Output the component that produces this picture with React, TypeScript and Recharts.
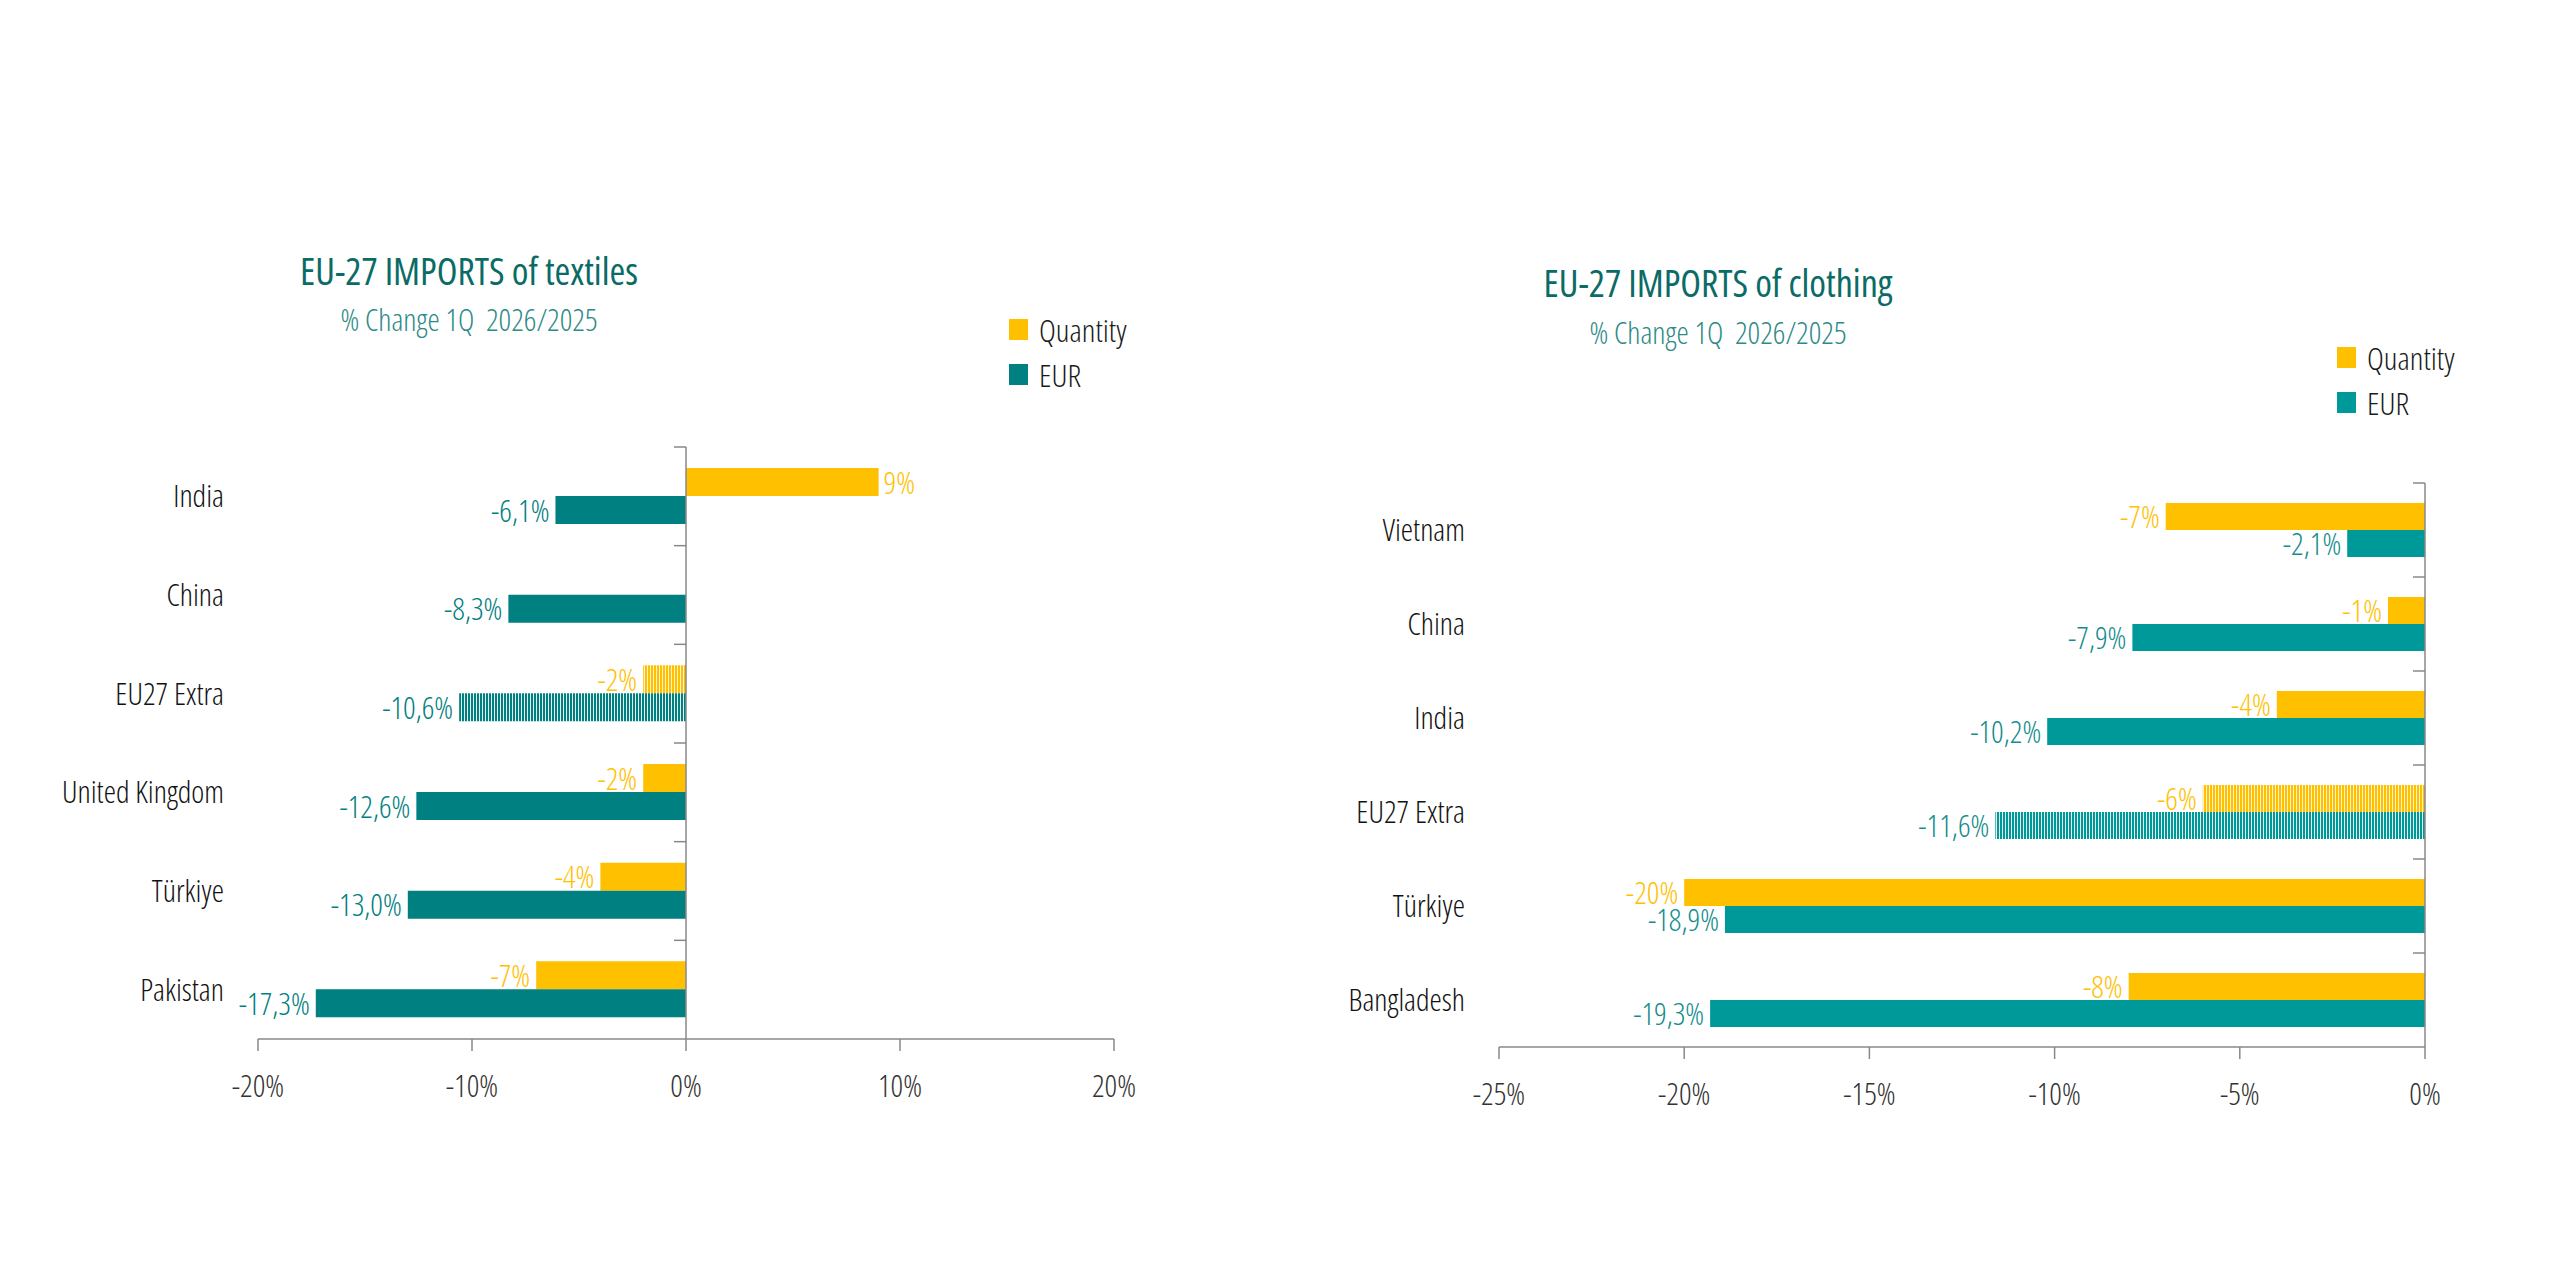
import React from 'react';
import { BarChart, Bar, XAxis, YAxis, ReferenceLine, Cell, LabelList, Legend } from 'recharts';

// ---------- Data ----------
const textileCategories = ['India', 'China', 'EU27 Extra', 'United Kingdom', 'Türkiye', 'Pakistan'];
const textileQuantity = [9, 0, -2, -2, -4, -7];
const textileEur = [-6.1, -8.3, -10.6, -12.6, -13.0, -17.3];
const textileTicks = [-20, -10, 0, 10, 20];

const clothingCategories = ['Vietnam', 'China', 'India', 'EU27 Extra', 'Türkiye', 'Bangladesh'];
const clothingQuantity = [-7, -1, -4, -6, -20, -8];
const clothingEur = [-2.1, -7.9, -10.2, -11.6, -18.9, -19.3];
const clothingTicks = [-25, -20, -15, -10, -5, 0];

const seriesNames = ['Quantity', 'EUR'];
const highlightedCategory = 'EU27 Extra';
const textileTitle = 'EU-27 IMPORTS of textiles';
const clothingTitle = 'EU-27 IMPORTS of clothing';
const subtitle = '% Change 1Q  2026/2025';

// ---------- Styles ----------
const YELLOW = '#FFC000';
const FONT = "'Open Sans', 'Noto Sans', sans-serif";

const fmtQty = (v: number) => `${Math.round(v)}%`;
const fmtEur = (v: number) => `${v.toFixed(1).replace('.', ',')}%`;

type Geo = {
  offsetX: number;
  plotLeft: number;
  plotRight: number;
  plotTop: number;
  plotBottom: number;
  labelRight: number;
  barSize: number;
  titleX: number;
  titleY: number;
  subY: number;
  legendX: number;
  legendY: number;
};

const W = 1280;
const H = 1280;

function makeValueLabel(color: string, fmt: (v: number) => string) {
  return (props: any) => {
    const x0 = Number(props.x);
    const w = Number(props.width);
    const y = Number(props.y);
    const h = Number(props.height);
    const v = Number(props.value);
    const left = Math.min(x0, x0 + w);
    const right = Math.max(x0, x0 + w);
    const neg = v < 0;
    return (
      <text
        x={neg ? left - 6 : right + 5}
        y={y + h / 2}
        dy="0.38em"
        textAnchor={neg ? 'end' : 'start'}
        fill={color}
        fontSize={31}
        fontWeight={300}
      >
        {fmt(v)}
      </text>
    );
  };
}

function Panel({
  categories,
  quantity,
  eur,
  ticks,
  teal,
  labelTeal,
  title,
  geo,
  pid,
}: {
  categories: string[];
  quantity: number[];
  eur: number[];
  ticks: number[];
  teal: string;
  labelTeal: string;
  title: string;
  geo: Geo;
  pid: string;
}) {
  const data = categories.map((name, i) => ({ name, quantity: quantity[i], eur: eur[i] }));
  const min = ticks[0];
  const max = ticks[ticks.length - 1];
  const plotW = geo.plotRight - geo.plotLeft;
  const zeroX = geo.plotLeft + (plotW * (0 - min)) / (max - min);
  const half = (geo.plotBottom - geo.plotTop) / categories.length / 2;
  const yAxisWidth = geo.plotLeft - 20;
  const xAxisHeight = 70;

  const CategoryTick = (props: any) => {
    const { x, y, payload } = props;
    return (
      <g>
        <text x={x} y={y} dy="0.36em" textAnchor="end" fill="#111" fontSize={31} fontWeight={340}>
          {payload.value}
        </text>
        <line x1={zeroX - 12} x2={zeroX} y1={y - half} y2={y - half} stroke="#888" strokeWidth={1.5} />
      </g>
    );
  };

  const LegendContent = (props: any) => {
    const payload = [...(props.payload || [])].sort(
      (a: any, b: any) => seriesNames.indexOf(a.value) - seriesNames.indexOf(b.value)
    );
    return (
      <div style={{ fontFamily: FONT, fontStretch: '75%' }}>
        {payload.map((p: any, i: number) => (
          <div key={i} style={{ display: 'flex', alignItems: 'center', height: 45 }}>
            <div style={{ width: 19, height: 21, background: p.color, marginRight: 11 }} />
            <span style={{ fontSize: 32, fontWeight: 300, color: '#1a1a1a', lineHeight: '45px' }}>{p.value}</span>
          </div>
        ))}
      </div>
    );
  };

  return (
    <div style={{ position: 'absolute', left: geo.offsetX, top: 0, width: W, height: H }}>
      <div
        style={{
          position: 'absolute',
          left: geo.titleX - 400,
          width: 800,
          top: geo.titleY - 42,
          textAlign: 'center',
          fontSize: 38,
          fontWeight: 400,
          color: '#0B6B66',
          lineHeight: '50px',
        }}
      >
        {title}
      </div>
      <div
        style={{
          position: 'absolute',
          left: geo.titleX - 400,
          width: 800,
          top: geo.subY - 33,
          textAlign: 'center',
          fontSize: 31,
          fontWeight: 300,
          color: '#2E8A87',
          lineHeight: '40px',
          whiteSpace: 'pre',
        }}
      >
        {subtitle}
      </div>
      <BarChart
        width={W}
        height={H}
        data={data}
        layout="vertical"
        barSize={geo.barSize}
        barGap={0}
        margin={{
          top: geo.plotTop,
          bottom: H - geo.plotBottom - xAxisHeight,
          left: geo.plotLeft - yAxisWidth,
          right: W - geo.plotRight,
        }}
      >
        <defs>
          <pattern id={`${pid}-stripeQ`} patternUnits="userSpaceOnUse" width={3} height={10}>
            <rect x={0} y={0} width={3} height={10} fill="#FFF3CC" />
            <rect x={0} y={0} width={2} height={10} fill={YELLOW} />
          </pattern>
          <pattern id={`${pid}-stripeE`} patternUnits="userSpaceOnUse" width={3} height={10}>
            <rect x={0} y={0} width={3} height={10} fill="#E6F4F4" />
            <rect x={0} y={0} width={2} height={10} fill={teal} />
          </pattern>
        </defs>
        <XAxis
          type="number"
          domain={[min, max]}
          ticks={ticks}
          tickFormatter={(v: number) => `${v}%`}
          height={xAxisHeight}
          stroke="#888"
          tickSize={12}
          tickMargin={24}
          tick={{ fill: '#333', fontSize: 31, fontWeight: 300 }}
          axisLine={{ stroke: '#888', strokeWidth: 1.5 }}
          tickLine={{ stroke: '#888', strokeWidth: 1.5 }}
          allowDataOverflow
        />
        <YAxis
          type="category"
          dataKey="name"
          width={yAxisWidth}
          axisLine={false}
          tickLine={false}
          tickSize={0}
          tickMargin={geo.plotLeft - geo.labelRight}
          tick={<CategoryTick />}
          interval={0}
        />
        <ReferenceLine x={0} stroke="#888" strokeWidth={1.5} />
        <Legend
          layout="vertical"
          align="center"
          verticalAlign="middle"
          content={<LegendContent />}
          wrapperStyle={{ position: 'absolute', left: geo.legendX, top: geo.legendY, width: 200 }}
        />
        <Bar dataKey="quantity" name={seriesNames[0]} fill={YELLOW} isAnimationActive={false}>
          {data.map((d, i) => (
            <Cell key={i} fill={d.name === highlightedCategory ? `url(#${pid}-stripeQ)` : YELLOW} />
          ))}
          <LabelList dataKey="quantity" content={makeValueLabel(YELLOW, fmtQty)} />
        </Bar>
        <Bar dataKey="eur" name={seriesNames[1]} fill={teal} isAnimationActive={false}>
          {data.map((d, i) => (
            <Cell key={i} fill={d.name === highlightedCategory ? `url(#${pid}-stripeE)` : teal} />
          ))}
          <LabelList dataKey="eur" content={makeValueLabel(labelTeal, fmtEur)} />
        </Bar>
      </BarChart>
    </div>
  );
}

const leftGeo: Geo = {
  offsetX: 0,
  plotLeft: 258,
  plotRight: 1114,
  plotTop: 447,
  plotBottom: 1039,
  labelRight: 224,
  barSize: 28,
  titleX: 469,
  titleY: 287,
  subY: 332,
  legendX: 1009,
  legendY: 307,
};

const rightGeo: Geo = {
  offsetX: 1280,
  plotLeft: 1499 - 1280,
  plotRight: 2425 - 1280,
  plotTop: 483,
  plotBottom: 1047,
  labelRight: 1465 - 1280,
  barSize: 27,
  titleX: 1718 - 1280,
  titleY: 299,
  subY: 345,
  legendX: 2337 - 1280,
  legendY: 335,
};

export default function App() {
  return (
    <div
      style={{
        position: 'absolute',
        left: 0,
        top: 0,
        width: 2560,
        height: 1280,
        background: '#fff',
        fontFamily: FONT,
        fontStretch: '75%',
        overflow: 'hidden',
      }}
    >
      <Panel
        categories={textileCategories}
        quantity={textileQuantity}
        eur={textileEur}
        ticks={textileTicks}
        teal="#008080"
        labelTeal="#008080"
        title={textileTitle}
        geo={leftGeo}
        pid="tex"
      />
      <Panel
        categories={clothingCategories}
        quantity={clothingQuantity}
        eur={clothingEur}
        ticks={clothingTicks}
        teal="#009999"
        labelTeal="#128C8C"
        title={clothingTitle}
        geo={rightGeo}
        pid="clo"
      />
    </div>
  );
}
